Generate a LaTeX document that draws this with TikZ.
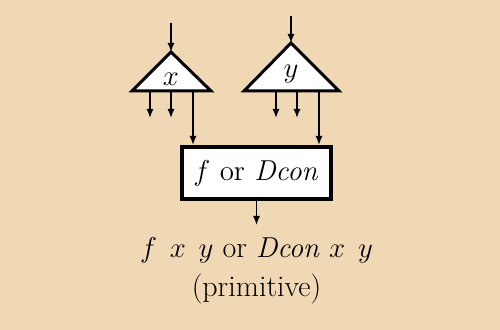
\documentclass[tikz,border=0pt]{standalone}
\usepackage{amsmath,amssymb}
\usepackage{tikz}
\usetikzlibrary{positioning, arrows.meta}
\usepackage{xcolor}
\definecolor{paper}{RGB}{240,216,180}

\begin{document}
\begin{tikzpicture}[
    x=0.5pt, y=-0.5pt,
    tri/.style={draw, line width=1.5pt, line join=miter, fill=white},
    lbl/.style={font=\fontsize{15}{18}\selectfont, inner sep=0pt},
    fbox/.style={draw, line width=2pt, fill=white, minimum width=74.5pt, minimum height=26pt, font=\fontsize{14.5}{18}\selectfont, inner sep=0pt},
    res/.style={font=\fontsize{15}{19.5}\selectfont, align=center, inner xsep=0pt, inner ysep=6pt},
    arr/.style={-{Latex[length=4.5pt, width=3.5pt]}, line width=0.7pt},
]
% background
\fill[paper] (0,0) rectangle (500,330);
\useasboundingbox (0,0) rectangle (500,330);

% triangle x
\coordinate (xtop) at (171,52);
\coordinate (xl) at (132,91);
\coordinate (xr) at (211,91);
\draw[tri] (xtop) -- (xr) -- (xl) -- cycle;
\node[lbl] (xlab) at (171,79) {$x$};
\coordinate (xin) at (171,23);

% triangle y
\coordinate (ytop) at (291,43);
\coordinate (yl) at (244,91);
\coordinate (yr) at (339,91);
\draw[tri] (ytop) -- (yr) -- (yl) -- cycle;
\node[lbl] (ylab) at (291,74) {$y$};
\coordinate (yin) at (291,16);

% primitive box
\node[fbox] (prim) at (256.5,173) {$f$ or $\mathit{Dcon}$};

% result
\node[res, below=12pt of prim] (out) {$f\;\,x\;\,y$ or $\mathit{Dcon}\;x\;\,y$\\(primitive)};

% inputs
\draw[arr] (xin) -- (xtop);
\draw[arr] (yin) -- (ytop);

% outputs of x
\draw[arr] (150,91) -- (150,118);
\draw[arr] (171,91) -- (171,118);
\draw[arr] (193,91) -- (193,91 |- prim.north);

% outputs of y
\draw[arr] (276,91) -- (276,118);
\draw[arr] (297,91) -- (297,118);
\draw[arr] (319,91) -- (319,91 |- prim.north);

% result arrow
\draw[arr] (prim.south) -- (out.north);
\end{tikzpicture}
\end{document}
